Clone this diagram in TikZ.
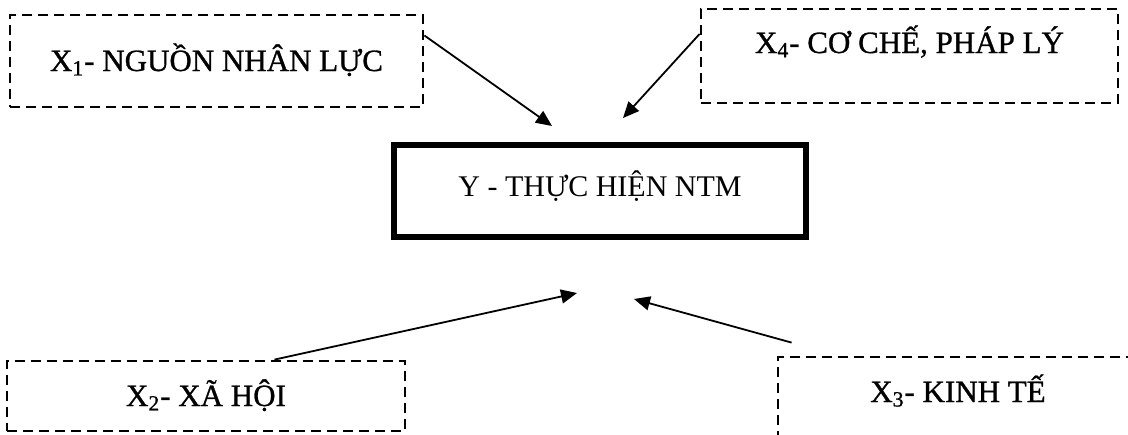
\documentclass[tikz,border=0pt]{standalone}
\usepackage{fontspec}
\setmainfont{Liberation Serif}
\newfontfamily\factorfont[FakeBold=0.9]{Liberation Serif}
\usetikzlibrary{arrows.meta}
\tikzset{
  factor/.style={draw, dash pattern=on 5pt off 3pt, line width=1.4pt,
    inner sep=0pt, text height=10pt, text depth=0pt,
    font=\factorfont\fontsize{15.5}{18}\selectfont},
  target/.style={draw, line width=3pt, inner sep=0pt,
    text height=10pt, text depth=5pt},
  link/.style={line width=0.9pt, -{Triangle[length=8pt,width=7pt]}}
}

\begin{document}
\begin{tikzpicture}[x=0.5pt, y=-0.5pt, font=\fontsize{15}{18}\selectfont]
  \useasboundingbox (0,0) rectangle (1128,434);

  \node [target, minimum width=206pt, minimum height=46pt] (y) at (600,191)
    {Y - THỰC HIỆN NTM};

  % the four factors
  \node [factor, minimum width=206.5pt, minimum height=46pt] (x1) at (216.5,61)
    {X\textsubscript{1}- NGUỒN NHÂN LỰC};
  \node [factor, minimum width=199pt, minimum height=35pt] (x2) at (206,396)
    {X\textsubscript{2}- XÃ HỘI};
  \node [factor, minimum width=180pt, minimum height=43pt, text depth=8pt] (x3) at (958,400)
    {X\textsubscript{3}- KINH TẾ};
  \node [factor, minimum width=208.5pt, minimum height=47pt, text depth=13pt] (x4) at (909.5,56)
    {X\textsubscript{4}- CƠ CHẾ, PHÁP LÝ};

  % arrow ends, left free above and below y
  \coordinate (e1) at (552,126);
  \coordinate (e2) at (577,293);
  \coordinate (e3) at (634,299);
  \coordinate (e4) at (623,118);

  \draw [link] (x1.7) -- (e1);
  \draw [link] (x4.174) -- (e4);
  \draw [link] (x2.28) -- (e2);
  \draw [link] ([shift={(7.5pt,6.5pt)}]x3.north west) -- (e3);
\end{tikzpicture}
\end{document}
